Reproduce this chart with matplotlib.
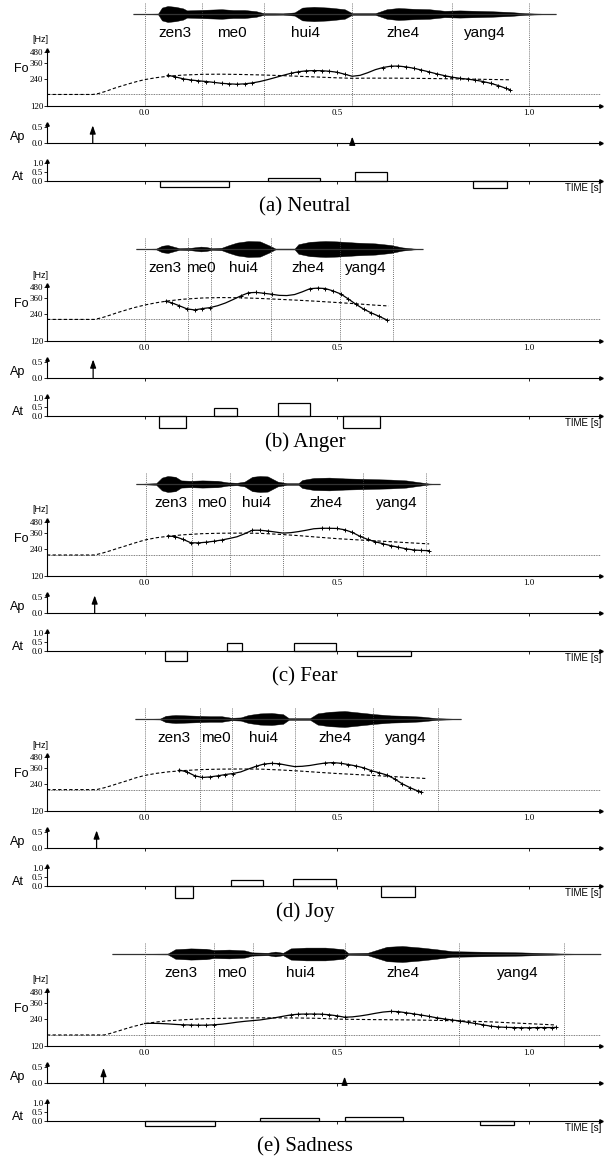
import numpy as np
import matplotlib
matplotlib.use("Agg")
import matplotlib.pyplot as plt

plt.rcParams['font.family'] = 'Liberation Serif'
SANS = 'Liberation Sans'

W, H = 604, 1162
STEP = 235
XMIN, XMAX = -0.254, 1.187
SYLL = ['zen3', 'me0', 'hui4', 'zhe4', 'yang4']

# ---------------- (a) Neutral
neutral_syll_t = [0.079, 0.226, 0.419, 0.673, 0.884]
neutral_bounds = [0.0, 0.148, 0.31, 0.54, 0.80, 1.0]
neutral_wave_t = [-0.03, 0.035, 0.045, 0.06, 0.08, 0.10, 0.11, 0.14, 0.17, 0.20, 0.23, 0.26, 0.29, 0.31, 0.36, 0.39, 0.41,
                  0.44, 0.48, 0.52, 0.54, 0.60, 0.63, 0.66, 0.70, 0.74, 0.78, 0.82, 0.86, 0.90, 0.95, 0.99, 1.02, 1.07]
neutral_wave_amp = [0, 0.05, 0.8, 1.0, 0.9, 0.7, 0.45, 0.5, 0.55, 0.6, 0.5, 0.5, 0.35, 0.1, 0.08, 0.2, 0.8,
                    0.9, 0.8, 0.6, 0.1, 0.1, 0.6, 0.75, 0.65, 0.6, 0.4, 0.45, 0.4, 0.35, 0.25, 0.1, 0.05, 0]
neutral_fb = 161
neutral_phrase_t = [-0.254, -0.135, -0.12, -0.10, -0.08, -0.06, -0.04, -0.02, 0.0, 0.03, 0.06, 0.10, 0.15, 0.20, 0.25,
                    0.30, 0.35, 0.40, 0.45, 0.50, 0.54, 0.58, 0.65, 0.70, 0.80, 0.90, 0.95]
neutral_phrase_hz = [161, 161, 165, 175, 188, 200, 212, 224, 235, 247, 256, 264, 269, 270, 268,
                     265, 261, 256, 251, 246, 243, 244, 244, 243, 240, 236, 234]
neutral_f0_t = [0.06, 0.08, 0.10, 0.12, 0.14, 0.16, 0.18, 0.20, 0.22, 0.24, 0.26, 0.28, 0.30, 0.32, 0.34, 0.36,
                0.38, 0.40, 0.42, 0.44, 0.46, 0.48, 0.50, 0.52, 0.54, 0.56, 0.58, 0.60, 0.62, 0.64, 0.66, 0.68,
                0.70, 0.72, 0.74, 0.76, 0.78, 0.80, 0.82, 0.84, 0.86, 0.88, 0.90, 0.92, 0.94, 0.95]
neutral_f0_hz = [263, 252, 240, 233, 228, 224, 219, 214, 211, 209, 211, 216, 224, 235, 248, 262,
                 276, 287, 294, 296, 295, 291, 284, 270, 256, 262, 280, 303, 320, 331, 332, 325,
                 314, 300, 286, 272, 260, 250, 243, 238, 232, 224, 214, 202, 188, 182]
neutral_voiced = [(0.06, 0.29), (0.38, 0.53), (0.62, 0.95)]
neutral_ap_t = [-0.135, 0.54]
neutral_ap = [0.55, 0.2]
neutral_at_on = [0.041, 0.321, 0.547, 0.854]
neutral_at_off = [0.219, 0.455, 0.630, 0.942]
neutral_at = [-0.35, 0.19, 0.48, -0.39]

# ---------------- (b) Anger
anger_syll_t = [0.054, 0.146, 0.256, 0.424, 0.574]
anger_bounds = [0.0, 0.112, 0.173, 0.329, 0.509, 0.645]
anger_wave_t = [-0.023, 0.03, 0.045, 0.06, 0.075, 0.09, 0.12, 0.146, 0.16, 0.175, 0.2, 0.22, 0.24, 0.27,
                0.3, 0.326, 0.34, 0.39, 0.4, 0.43, 0.47, 0.5, 0.55, 0.6, 0.64, 0.67, 0.7, 0.723]
anger_wave_amp = [0, 0.05, 0.4, 0.5, 0.3, 0.1, 0.15, 0.3, 0.25, 0.1, 0.15, 0.5, 0.8, 1.0,
                  0.95, 0.4, 0.05, 0.05, 0.6, 0.9, 1.0, 0.95, 0.8, 0.7, 0.5, 0.2, 0.05, 0]
anger_fb = 208
anger_phrase_t = [-0.254, -0.13, -0.11, -0.09, -0.07, -0.05, -0.03, 0.0, 0.03, 0.06, 0.10,
                  0.15, 0.20, 0.25, 0.30, 0.35, 0.40, 0.45, 0.50, 0.55, 0.60, 0.635]
anger_phrase_hz = [208, 208, 218, 232, 248, 263, 279, 300, 318, 333, 348,
                   359, 363, 361, 355, 347, 339, 330, 320, 310, 299, 293]
anger_f0_t = [0.055, 0.07, 0.09, 0.11, 0.13, 0.15, 0.17, 0.19, 0.21, 0.23, 0.25, 0.27, 0.29, 0.31, 0.33,
              0.35, 0.37, 0.39, 0.41, 0.43, 0.45, 0.47, 0.49, 0.51, 0.53, 0.55, 0.57, 0.59, 0.61, 0.63]
anger_f0_hz = [330, 318, 295, 272, 265, 274, 281, 295, 316, 345, 379, 410, 414, 405, 395,
               384, 382, 392, 420, 455, 462, 457, 430, 398, 350, 305, 270, 245, 225, 205]
anger_voiced = [(0.055, 0.17), (0.25, 0.33), (0.42, 0.635)]
anger_ap_t = [-0.134]
anger_ap = [0.58]
anger_at_on = [0.037, 0.180, 0.348, 0.517]
anger_at_off = [0.107, 0.239, 0.429, 0.612]
anger_at = [-0.66, 0.47, 0.72, -0.66]

# ---------------- (c) Fear
fear_syll_t = [0.068, 0.175, 0.292, 0.471, 0.655]
fear_bounds = [0.003, 0.123, 0.221, 0.36, 0.568, 0.733]
fear_wave_t = [-0.023, 0.03, 0.045, 0.06, 0.08, 0.095, 0.12, 0.15, 0.19, 0.216, 0.24, 0.26, 0.28, 0.30, 0.32,
               0.346, 0.37, 0.40, 0.41, 0.44, 0.48, 0.52, 0.56, 0.60, 0.64, 0.68, 0.71, 0.74, 0.768]
fear_wave_amp = [0, 0.1, 0.8, 1.0, 0.9, 0.45, 0.4, 0.45, 0.4, 0.2, 0.15, 0.3, 0.9, 1.0, 0.95,
                 0.3, 0.1, 0.1, 0.5, 0.75, 0.8, 0.7, 0.65, 0.6, 0.55, 0.45, 0.25, 0.05, 0]
fear_fb = 205
fear_phrase_t = [-0.254, -0.13, -0.11, -0.09, -0.07, -0.05, -0.03, 0.0, 0.03, 0.06, 0.10, 0.15,
                 0.20, 0.25, 0.30, 0.35, 0.40, 0.45, 0.50, 0.55, 0.60, 0.65, 0.70, 0.74]
fear_phrase_hz = [205, 205, 215, 228, 243, 258, 275, 300, 318, 330, 343, 353,
                  357, 358, 356, 347, 336, 323, 311, 302, 294, 286, 278, 272]
fear_f0_t = [0.06, 0.08, 0.10, 0.12, 0.14, 0.16, 0.18, 0.20, 0.22, 0.24, 0.26, 0.28, 0.30, 0.32, 0.34, 0.36,
             0.38, 0.40, 0.42, 0.44, 0.46, 0.48, 0.50, 0.52, 0.54, 0.56, 0.58, 0.60, 0.62, 0.64, 0.66, 0.68,
             0.70, 0.72, 0.74]
fear_f0_hz = [333, 327, 305, 280, 279, 284, 291, 300, 312, 326, 352, 385, 385, 378, 368, 358,
              362, 372, 385, 400, 405, 405, 403, 390, 365, 330, 305, 287, 273, 260, 250, 240,
              233, 230, 229]
fear_voiced = [(0.06, 0.21), (0.27, 0.32), (0.46, 0.74)]
fear_ap_t = [-0.13]
fear_ap = [0.55]
fear_at_on = [0.053, 0.213, 0.388, 0.552]
fear_at_off = [0.110, 0.253, 0.497, 0.692]
fear_at = [-0.58, 0.45, 0.42, -0.25]

# ---------------- (d) Joy
joy_syll_t = [0.076, 0.185, 0.308, 0.496, 0.68]
joy_bounds = [0.0, 0.144, 0.227, 0.39, 0.595, 0.763]
joy_wave_t = [-0.025, 0.04, 0.055, 0.08, 0.11, 0.14, 0.17, 0.2, 0.226, 0.25, 0.27, 0.3, 0.33,
              0.36, 0.375, 0.43, 0.45, 0.48, 0.52, 0.56, 0.6, 0.64, 0.68, 0.72, 0.76, 0.823]
joy_wave_amp = [0, 0.05, 0.4, 0.5, 0.45, 0.4, 0.35, 0.35, 0.15, 0.2, 0.5, 0.7, 0.75,
                0.6, 0.1, 0.1, 0.7, 0.9, 1.0, 0.8, 0.6, 0.45, 0.4, 0.3, 0.1, 0]
joy_fb = 207
joy_phrase_t = [-0.254, -0.125, -0.105, -0.085, -0.065, -0.045, -0.025, 0.0, 0.03, 0.06, 0.10, 0.15,
                0.20, 0.25, 0.30, 0.35, 0.40, 0.45, 0.50, 0.55, 0.60, 0.65, 0.70, 0.73]
joy_phrase_hz = [207, 207, 217, 230, 245, 260, 278, 297, 313, 325, 336, 345,
                 349, 350, 349, 342, 333, 322, 312, 304, 296, 288, 280, 275]
joy_f0_t = [0.09, 0.11, 0.13, 0.15, 0.17, 0.19, 0.21, 0.23, 0.25, 0.27, 0.29, 0.31, 0.33, 0.35, 0.37, 0.39,
            0.41, 0.43, 0.45, 0.47, 0.49, 0.51, 0.53, 0.55, 0.57, 0.59, 0.61, 0.63, 0.65, 0.67, 0.69, 0.71, 0.72]
joy_f0_hz = [341, 325, 295, 282, 286, 294, 304, 312, 325, 350, 375, 397, 404, 400, 385, 372,
             375, 383, 396, 408, 412, 405, 392, 378, 360, 335, 318, 300, 272, 240, 218, 200, 195]
joy_voiced = [(0.09, 0.24), (0.28, 0.36), (0.47, 0.72)]
joy_ap_t = [-0.125]
joy_ap = [0.55]
joy_at_on = [0.080, 0.225, 0.387, 0.615]
joy_at_off = [0.125, 0.307, 0.497, 0.703]
joy_at = [-0.66, 0.32, 0.40, -0.60]

# ---------------- (e) Sadness
sad_syll_t = [0.095, 0.228, 0.406, 0.672, 0.971]
sad_bounds = [0.0, 0.181, 0.281, 0.52, 0.818, 1.091]
sad_wave_t = [-0.085, 0.06, 0.08, 0.12, 0.16, 0.18, 0.22, 0.26, 0.28, 0.32, 0.34, 0.36, 0.38, 0.42, 0.47,
              0.517, 0.53, 0.58, 0.6, 0.63, 0.67, 0.72, 0.758, 0.8, 0.86, 0.92, 0.98, 1.05, 1.09, 1.187]
sad_wave_amp = [0, 0.05, 0.6, 0.7, 0.65, 0.5, 0.55, 0.45, 0.2, 0.15, 0.3, 0.15, 0.7, 0.8, 0.8,
                0.6, 0.1, 0.15, 0.45, 0.9, 1.0, 0.8, 0.6, 0.35, 0.3, 0.25, 0.2, 0.1, 0.05, 0]
sad_fb = 159
sad_phrase_t = [-0.254, -0.105, -0.09, -0.07, -0.05, -0.03, 0.0, 0.03, 0.06, 0.10, 0.15, 0.20, 0.25,
                0.30, 0.35, 0.40, 0.45, 0.50, 0.56, 0.60, 0.70, 0.80, 0.90, 1.00, 1.07]
sad_phrase_hz = [159, 159, 165, 175, 186, 197, 212, 221, 228, 234, 240, 243, 245,
                 246, 246, 245, 243, 238, 236, 235, 233, 229, 222, 212, 205]
sad_f0_t = [0.00, 0.02, 0.04, 0.06, 0.08, 0.10, 0.12, 0.14, 0.16, 0.18, 0.20, 0.22, 0.24, 0.26, 0.28,
            0.30, 0.32, 0.34, 0.36, 0.38, 0.40, 0.42, 0.44, 0.46, 0.48, 0.50, 0.52, 0.54, 0.56, 0.58,
            0.60, 0.62, 0.64, 0.66, 0.68, 0.70, 0.72, 0.74, 0.76, 0.78, 0.80, 0.82, 0.84, 0.86, 0.88,
            0.90, 0.92, 0.94, 0.96, 0.98, 1.00, 1.02, 1.04, 1.06, 1.07]
sad_f0_hz = [213, 214, 213, 211, 208, 206, 205, 204, 204, 206, 209, 214, 220, 225, 229,
             233, 240, 247, 256, 265, 270, 271, 271, 270, 266, 259, 250, 252, 258, 266,
             276, 285, 290, 288, 280, 272, 264, 255, 246, 239, 233, 227, 220, 213, 206,
             199, 195, 193, 192, 191, 191, 192, 192, 192, 193]
sad_voiced = [(0.09, 0.19), (0.38, 0.52), (0.63, 1.07)]
sad_ap_t = [-0.107, 0.52]
sad_ap = [0.47, 0.2]
sad_at_on = [0.001, 0.299, 0.520, 0.873]
sad_at_off = [0.184, 0.453, 0.671, 0.961]
sad_at = [-0.25, 0.17, 0.23, -0.21]

captions = ['(a) Neutral', '(b) Anger', '(c) Fear', '(d) Joy', '(e) Sadness']

panels = [
    dict(syll_t=neutral_syll_t, bounds=neutral_bounds, wave_t=neutral_wave_t, wave_amp=neutral_wave_amp,
         fb=neutral_fb, ph_t=neutral_phrase_t, ph_hz=neutral_phrase_hz, f0_t=neutral_f0_t, f0_hz=neutral_f0_hz,
         voiced=neutral_voiced, ap_t=neutral_ap_t, ap=neutral_ap,
         at_on=neutral_at_on, at_off=neutral_at_off, at=neutral_at),
    dict(syll_t=anger_syll_t, bounds=anger_bounds, wave_t=anger_wave_t, wave_amp=anger_wave_amp,
         fb=anger_fb, ph_t=anger_phrase_t, ph_hz=anger_phrase_hz, f0_t=anger_f0_t, f0_hz=anger_f0_hz,
         voiced=anger_voiced, ap_t=anger_ap_t, ap=anger_ap,
         at_on=anger_at_on, at_off=anger_at_off, at=anger_at),
    dict(syll_t=fear_syll_t, bounds=fear_bounds, wave_t=fear_wave_t, wave_amp=fear_wave_amp,
         fb=fear_fb, ph_t=fear_phrase_t, ph_hz=fear_phrase_hz, f0_t=fear_f0_t, f0_hz=fear_f0_hz,
         voiced=fear_voiced, ap_t=fear_ap_t, ap=fear_ap,
         at_on=fear_at_on, at_off=fear_at_off, at=fear_at),
    dict(syll_t=joy_syll_t, bounds=joy_bounds, wave_t=joy_wave_t, wave_amp=joy_wave_amp,
         fb=joy_fb, ph_t=joy_phrase_t, ph_hz=joy_phrase_hz, f0_t=joy_f0_t, f0_hz=joy_f0_hz,
         voiced=joy_voiced, ap_t=joy_ap_t, ap=joy_ap,
         at_on=joy_at_on, at_off=joy_at_off, at=joy_at),
    dict(syll_t=sad_syll_t, bounds=sad_bounds, wave_t=sad_wave_t, wave_amp=sad_wave_amp,
         fb=sad_fb, ph_t=sad_phrase_t, ph_hz=sad_phrase_hz, f0_t=sad_f0_t, f0_hz=sad_f0_hz,
         voiced=sad_voiced, ap_t=sad_ap_t, ap=sad_ap,
         at_on=sad_at_on, at_off=sad_at_off, at=sad_at),
]

fig = plt.figure(figsize=(W / 100, H / 100), dpi=100)
X0, X1 = 47, 601


def add_px_axes(top, bottom):
    ax = fig.add_axes([X0 / W, 1 - bottom / H, (X1 - X0) / W, (bottom - top) / H])
    ax.set_facecolor('none')
    ax.set_xlim(XMIN, XMAX)
    return ax


def ftext(x, y, s, **kw):
    fig.text(x / W, 1 - y / H, s, **kw)


def style_axis(ax):
    for s in ['top', 'right']:
        ax.spines[s].set_visible(False)
    for s in ['left', 'bottom']:
        ax.spines[s].set_linewidth(0.8)
    ax.tick_params(direction='out', length=2, width=0.6, labelsize=6.5, pad=0.8)


dot = (0, (1, 1.5))
for i, p in enumerate(panels):
    P = STEP * i

    # speech waveform
    axw = add_px_axes(P + 4, P + 24)
    axw.set_ylim(-1.25, 1.25)
    axw.axis('off')
    wt = np.array(p['wave_t'])
    wa = np.array(p['wave_amp'])
    axw.fill_between(wt, -wa, wa, color='black', lw=0.3)
    axw.hlines(0, wt[0], wt[-1], color='#333333', lw=0.9)
    for t, s in zip(p['syll_t'], SYLL):
        axw.text(t, -2.375, s, ha='center', va='center', fontsize=11, family=SANS, clip_on=False)

    # F0 contour
    ax = add_px_axes(P + 50, P + 106)
    ax.set_yscale('log')
    ax.set_ylim(120, 500)
    style_axis(ax)
    ax.set_yticks([120, 240, 360, 480], labels=['120', '240', '360', '480'])
    ax.minorticks_off()
    ax.set_xticks([0, 0.5, 1.0], labels=['0.0', '0.5', '1.0'])
    ax.tick_params(axis='x', length=0, pad=2)
    ax.axhline(p['fb'], color='#555555', lw=0.6, ls=(0, (1, 1)))
    for b in p['bounds']:
        ax.axvline(b, ymin=0, ymax=(106 - 3) / 56, color='#444444', lw=0.6, ls=dot, clip_on=False)
    ax.plot(p['ph_t'], p['ph_hz'], color='black', lw=0.8, ls=(0, (3, 2)))
    ft = np.array(p['f0_t'])
    fh = np.array(p['f0_hz'])
    ax.plot(ft, fh, color='black', lw=0.9)
    mask = np.zeros(len(ft), bool)
    for lo, hi in p['voiced']:
        mask |= (ft >= lo - 1e-6) & (ft <= hi + 1e-6)
    ax.plot(ft[mask], fh[mask], '+', color='black', ms=3.5, mew=0.7)
    ax.plot(0, 1, '^', transform=ax.transAxes, color='black', ms=2.5, clip_on=False)
    ax.plot(1, 0, '>', transform=ax.transAxes, color='black', ms=2.5, clip_on=False)
    ftext(40, P + 40, '[Hz]', ha='center', va='center', fontsize=6.5, family=SANS)
    ftext(21, P + 69, 'Fo', ha='center', va='center', fontsize=9, family=SANS)

    # phrase commands
    axp = add_px_axes(P + 122, P + 146)
    axp.set_ylim(-3 / 32, 21 / 32)
    style_axis(axp)
    axp.spines['bottom'].set_position(('data', 0))
    axp.spines['left'].set_bounds(0, 0.6)
    axp.set_yticks([0, 0.5], labels=['0.0', '0.5'])
    axp.set_xticks([0, 0.5, 1.0], labels=['', '', ''])
    for t, a in zip(p['ap_t'], p['ap']):
        axp.annotate('', xy=(t, a), xytext=(t, 0),
                     arrowprops=dict(arrowstyle='-|>,head_length=0.7,head_width=0.25', color='black',
                                     lw=0.9, shrinkA=0, shrinkB=0, mutation_scale=7))
    axp.plot(0, 0.6, '^', transform=axp.get_yaxis_transform(), color='black', ms=2.5, clip_on=False)
    axp.plot(1, 0, '>', transform=axp.get_yaxis_transform(), color='black', ms=2.5, clip_on=False)
    ftext(18, P + 137, 'Ap', ha='center', va='center', fontsize=9, family=SANS)

    # accent commands
    axa = add_px_axes(P + 159, P + 196)
    axa.set_ylim(-15 / 18, 22 / 18)
    style_axis(axa)
    axa.spines['bottom'].set_position(('data', 0))
    axa.spines['left'].set_bounds(0, 1.1)
    axa.set_yticks([0, 0.5, 1.0], labels=['0.0', '0.5', '1.0'])
    axa.set_xticks([0, 0.5, 1.0], labels=['', '', ''])
    widths = [b - a for a, b in zip(p['at_on'], p['at_off'])]
    axa.bar(p['at_on'], p['at'], width=widths, align='edge', fill=False, edgecolor='black', lw=0.9)
    axa.plot(0, 1.1, '^', transform=axa.get_yaxis_transform(), color='black', ms=2.5, clip_on=False)
    axa.plot(1, 0, '>', transform=axa.get_yaxis_transform(), color='black', ms=2.5, clip_on=False)
    ftext(18, P + 177, 'At', ha='center', va='center', fontsize=9, family=SANS)
    ftext(601, P + 188, 'TIME [s]', ha='right', va='center', fontsize=7, family=SANS)

    ftext(305, P + 207, captions[i], ha='center', va='center', fontsize=15)

fig.savefig('out.png', dpi=100)
